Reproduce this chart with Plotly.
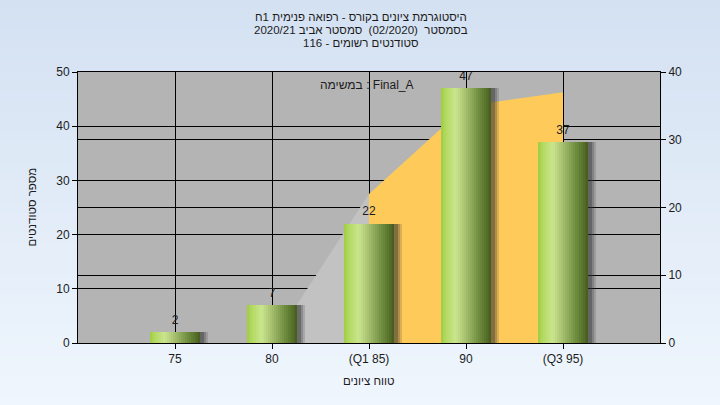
import plotly.graph_objects as go

# ---------------- data ----------------
categories = ["75", "80", "(Q1 85)", "90", "(Q3 95)"]
student_counts = [2, 7, 22, 47, 37]
curve_values = [0, 0, 22, 35, 37]          # area curve on right axis
q1_index = 2
q3_index = 4
left_ticks = [0, 10, 20, 30, 40, 50]
right_ticks = [0, 10, 20, 30, 40]

title_lines = [
    "היסטוגרמת ציונים בקורס - רפואה פנימית 1ח",
    "בסמסטר  (02/2020)  סמסטר אביב 2020/21",
    "סטודנטים רשומים - 116",
]
legend_text = "במשימה : Final_A"
y_title = "מספר סטודנטים"
x_title = "טווח ציונים"

FONT = "Liberation Sans, DejaVu Sans, Arial, sans-serif"
TXT = "#1c1c1c"

fig = go.Figure()

# ---------------- area curve (main y axis, drawn beneath bars) ----------------
fig.add_trace(go.Scatter(
    x=categories[:q1_index + 1], y=curve_values[:q1_index + 1],
    mode="lines", fill="tozeroy", fillcolor="#c2c2c2",
    line=dict(width=0, color="#c2c2c2"), hoverinfo="skip", showlegend=False,
))
fig.add_trace(go.Scatter(
    x=categories[q1_index:q3_index + 1], y=curve_values[q1_index:q3_index + 1],
    mode="lines", fill="tozeroy", fillcolor="#fecb5a",
    line=dict(width=0, color="#fecb5a"), hoverinfo="skip", showlegend=False,
))

# ---------------- bars (y2, left axis) ----------------
BAR_W = 0.525
# soft shadow
for k, (dx, op) in enumerate([(0.075, 0.18), (0.055, 0.25), (0.035, 0.35)]):
    fig.add_trace(go.Bar(
        x=categories, y=student_counts, yaxis="y2",
        width=BAR_W, offset=-BAR_W / 2 + dx,
        marker=dict(color=f"rgba(50,50,50,{op})", line=dict(width=0)),
        hoverinfo="skip", showlegend=False,
    ))

stops = [(0.0, (160, 205, 66)), (0.12, (180, 218, 100)), (0.3, (202, 229, 142)),
         (0.5, (165, 190, 110)), (0.75, (110, 140, 62)), (1.0, (68, 92, 30))]


def grad(t):
    for (t0, c0), (t1, c1) in zip(stops[:-1], stops[1:]):
        if t0 <= t <= t1:
            f = (t - t0) / (t1 - t0) if t1 > t0 else 0
            return "rgb(%d,%d,%d)" % tuple(round(a + (b - a) * f) for a, b in zip(c0, c1))
    return "rgb(%d,%d,%d)" % stops[-1][1]


N = 26
sw = BAR_W / N
for i in range(N):
    t = (i + 0.5) / N
    w = sw * 1.6 if i < N - 1 else sw
    fig.add_trace(go.Bar(
        x=categories, y=student_counts, yaxis="y2",
        width=w, offset=-BAR_W / 2 + i * sw,
        marker=dict(color=grad(t), line=dict(width=0)),
        hoverinfo="skip", showlegend=False,
    ))

# value labels
fig.add_trace(go.Scatter(
    x=categories, y=student_counts, yaxis="y2", mode="markers+text",
    marker=dict(size=7, color="rgba(0,0,0,0)"),
    text=[str(v) for v in student_counts], textposition="top center",
    textfont=dict(family=FONT, size=12, color=TXT),
    hoverinfo="skip", showlegend=False, cliponaxis=False,
))

# ---------------- background gradient (outside plot) ----------------
shapes = []
nb = 40
top_c = (212, 225, 242)
bot_c = (239, 246, 253)
y_lo, y_hi = -0.235, 1.27
for i in range(nb):
    f = i / (nb - 1)
    c = tuple(round(b + (a - b) * f) for a, b in zip(top_c, bot_c))
    y0 = y_lo + (y_hi - y_lo) * i / nb
    y1 = y_lo + (y_hi - y_lo) * (i + 1) / nb + 0.002
    shapes.append(dict(type="rect", xref="paper", yref="paper", x0=-0.2, x1=1.2,
                       y0=y0, y1=y1, fillcolor="rgb(%d,%d,%d)" % c,
                       line=dict(width=0), layer="below"))
shapes.append(dict(type="rect", xref="paper", yref="paper", x0=0, x1=1, y0=0, y1=1,
                   fillcolor="#b4b4b4", line=dict(width=0), layer="below"))

annotations = []
for j, line in enumerate(title_lines):
    annotations.append(dict(text=line, xref="paper", yref="paper",
                            x=(361 - 78) / 582, y=(343 - (17 + 13 * j)) / 271,
                            showarrow=False, xanchor="center", yanchor="middle",
                            font=dict(family=FONT, size=11.5, color=TXT)))
annotations.append(dict(text=legend_text, xref="paper", yref="paper",
                        x=(367 - 78) / 582, y=(343 - 85) / 271, showarrow=False,
                        xanchor="center", yanchor="middle",
                        font=dict(family=FONT, size=12, color=TXT)))
annotations.append(dict(text=y_title, xref="paper", yref="paper",
                        x=(31 - 78) / 582, y=0.5, textangle=-90, showarrow=False,
                        xanchor="center", yanchor="middle",
                        font=dict(family=FONT, size=11.5, color=TXT)))
annotations.append(dict(text=x_title, xref="paper", yref="paper",
                        x=(369 - 78) / 582, y=(343 - 381) / 271, showarrow=False,
                        xanchor="center", yanchor="middle",
                        font=dict(family=FONT, size=11.5, color=TXT)))

axis_common = dict(showline=True, linecolor="black", linewidth=1,
                   ticks="outside", ticklen=5, tickcolor="black",
                   showgrid=True, gridcolor="black", gridwidth=1,
                   zeroline=False, tickfont=dict(family=FONT, size=12, color=TXT))

fig.update_layout(
    width=720, height=405,
    margin=dict(l=78, r=60, t=72, b=62),
    paper_bgcolor="#e3edf8", plot_bgcolor="rgba(0,0,0,0)",
    barmode="overlay", bargap=0,
    showlegend=False,
    shapes=shapes, annotations=annotations,
    xaxis=dict(type="category", categoryorder="array", categoryarray=categories,
               range=[-1, len(categories)], mirror=True, **axis_common),
    yaxis=dict(side="right", range=[0, 40], tickvals=right_ticks, **axis_common),
    yaxis2=dict(side="left", overlaying="y", range=[0, 50], tickvals=left_ticks,
                **axis_common),
)

fig.write_html("out.html", config={"displayModeBar": False},
               post_script="document.body.style.margin='0';document.body.style.overflow='hidden';")
